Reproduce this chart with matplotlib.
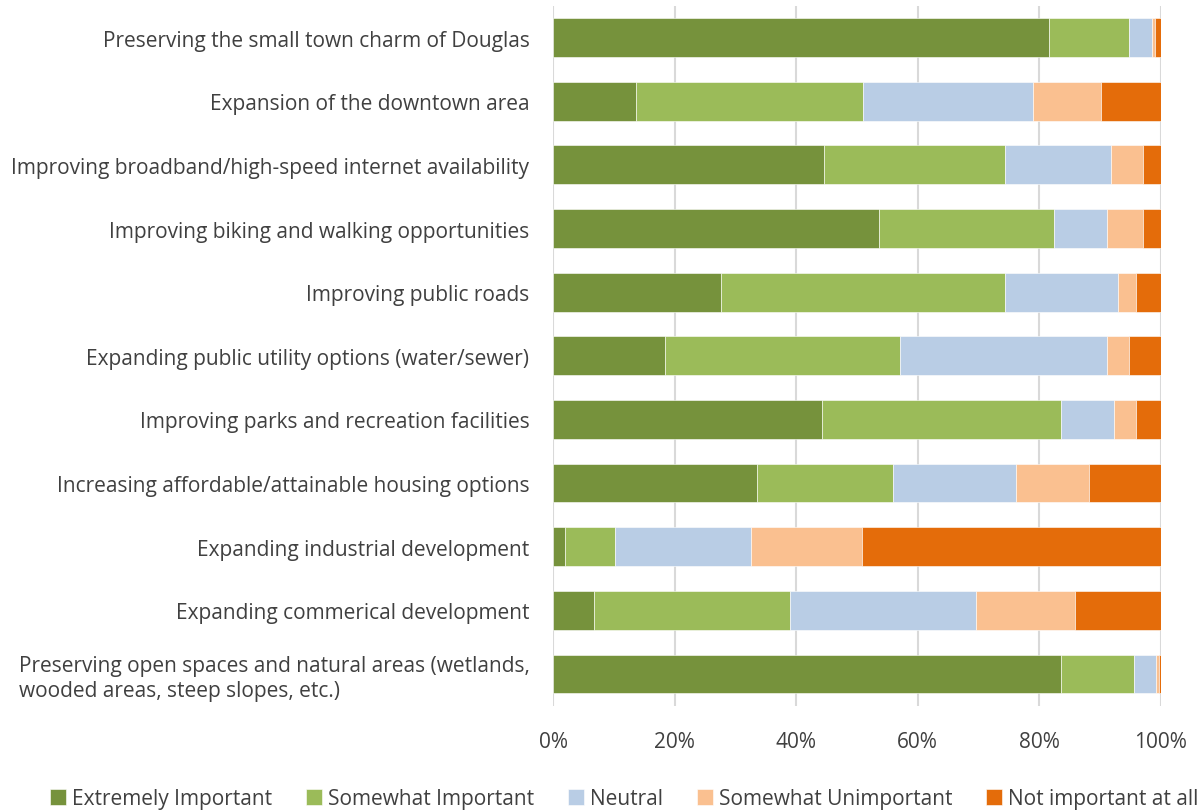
import matplotlib.pyplot as plt
import numpy as np
from matplotlib.ticker import PercentFormatter

plt.rcParams['font.family'] = ['Open Sans', 'DejaVu Sans']

# categories, top to bottom as shown
categories = [
    'Preserving the small town charm of Douglas',
    'Expansion of the downtown area',
    'Improving broadband/high-speed internet availability',
    'Improving biking and walking opportunities',
    'Improving public roads',
    'Expanding public utility options (water/sewer)',
    'Improving parks and recreation facilities',
    'Increasing affordable/attainable housing options',
    'Expanding industrial development',
    'Expanding commerical development',
    'Preserving open spaces and natural areas (wetlands,\nwooded areas, steep slopes, etc.)',
]

# percentages for each response
extremely = [81.6, 13.6, 44.6, 53.6, 27.6, 18.4, 44.2, 33.5, 1.9, 6.7, 83.5]
somewhat = [13.2, 37.4, 29.8, 28.8, 46.8, 38.7, 39.3, 22.4, 8.3, 32.2, 12.0]
neutral = [3.7, 27.9, 17.4, 8.8, 18.5, 34.0, 8.8, 20.3, 22.4, 30.6, 3.7]
unimportant = [0.5, 11.2, 5.2, 5.8, 3.0, 3.7, 3.6, 11.9, 18.2, 16.3, 0.4]
not_at_all = [1.0, 9.9, 3.0, 3.0, 4.1, 5.2, 4.1, 11.9, 49.2, 14.2, 0.4]

series = [extremely, somewhat, neutral, unimportant, not_at_all]
names = ['Extremely Important', 'Somewhat Important', 'Neutral',
         'Somewhat Unimportant', 'Not important at all']
colors = ['#76923C', '#9BBB59', '#B9CDE5', '#FAC090', '#E46C0A']

fig = plt.figure(figsize=(12.04, 8.12), dpi=100)
ax = fig.add_axes([553/1204, 1 - 706.8/812, 608/1204, 700/812])

y = np.arange(len(categories))
left = np.zeros(len(categories))
for vals, name, col in zip(series, names, colors):
    vals = np.array(vals)
    ax.barh(y, vals, left=left, height=0.61, color=col, label=name,
            edgecolor='white', linewidth=0.4, zorder=3)
    left += vals

ax.set_ylim(len(categories) - 0.5, -0.5)
ax.set_xlim(0, 100)
ax.set_yticks(y)
ax.set_yticklabels(categories, fontsize=15, color='#404040')
ax.set_xticks(np.arange(0, 101, 20))
ax.xaxis.set_major_formatter(PercentFormatter(decimals=0))
ax.tick_params(axis='x', labelsize=15, labelcolor='#404040', length=0, pad=18)
ax.tick_params(axis='y', length=0, pad=17)
for lbl in ax.get_yticklabels():
    lbl.set_horizontalalignment('right')
    lbl.set_multialignment('left')

ax.grid(axis='x', color='#D9D9D9', linewidth=1.5, zorder=0)
for s in ax.spines.values():
    s.set_visible(False)

fig.legend(loc='lower center', ncol=5, frameon=False, fontsize=15,
           bbox_to_anchor=(0.5187, -0.021), handlelength=0.75, handleheight=0.75,
           handletextpad=0.3, columnspacing=1.63, labelcolor='#404040')

fig.savefig('out.png', dpi=100)
